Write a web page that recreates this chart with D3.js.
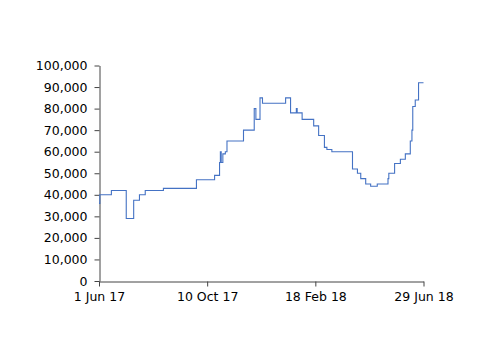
<!DOCTYPE html>
<html>
<head>
<meta charset="utf-8">
<script src="https://cdn.jsdelivr.net/npm/d3@7"></script>
<style>
  body { margin: 0; background: #fff; }
  .axis text { font-family: "DejaVu Sans", Verdana, sans-serif; font-size: 12.5px; fill: #000; }
  .axis path, .axis line { stroke: #444; }
</style>
</head>
<body>
<div id="chart"></div>
<script>
// step data
const dates = [
    "2017-06-01", "2017-06-02", "2017-06-16", "2017-07-04", "2017-07-13", "2017-07-20",
    "2017-07-27", "2017-08-18", "2017-09-27", "2017-10-19", "2017-10-25", "2017-10-26",
    "2017-10-27", "2017-10-29", "2017-11-01", "2017-11-03", "2017-11-23", "2017-12-06",
    "2017-12-08", "2017-12-13", "2017-12-16", "2018-01-13", "2018-01-19", "2018-01-26",
    "2018-01-27", "2018-02-02", "2018-02-16", "2018-02-22", "2018-03-01", "2018-03-04",
    "2018-03-10", "2018-04-04", "2018-04-10", "2018-04-14", "2018-04-20", "2018-04-26",
    "2018-05-04", "2018-05-17", "2018-05-18", "2018-05-25", "2018-06-01", "2018-06-07",
    "2018-06-13", "2018-06-15", "2018-06-16", "2018-06-19", "2018-06-23", "2018-06-29"
];
const values = [
    36000, 40000, 42000, 29000, 37500, 40000,
    42000, 43000, 47000, 49000, 55000, 60000,
    55000, 59000, 60000, 65000, 70000, 80000,
    75000, 85000, 82500, 85000, 78000, 80000,
    78000, 75000, 72000, 67500, 62000, 61000,
    60000, 52000, 50000, 47500, 45000, 44000,
    45000, 47500, 50000, 54500, 56500, 59000,
    65000, 70000, 81000, 84000, 92000, 92000
];
const xTickDates = ["2017-06-01", "2017-10-10", "2018-02-18", "2018-06-29"];
const yTicks = [0, 10000, 20000, 30000, 40000, 50000, 60000, 70000, 80000, 90000, 100000];

const parse = d3.timeParse("%Y-%m-%d");
let data = dates.map((d, i) => ({date: parse(d), value: values[i]}));

let width = 500, height = 353;
let margin = {top: 65.5, right: 76.5, bottom: 72, left: 99};

let svg = d3.select("#chart").append("svg")
    .attr("width", width)
    .attr("height", height);

let x = d3.scaleTime()
    .domain([parse(xTickDates[0]), parse(xTickDates[3])])
    .range([margin.left, width - margin.right]);

let y = d3.scaleLinear()
    .domain([0, 100000])
    .range([height - margin.bottom, margin.top]);

// x axis
svg.append("g")
    .attr("class", "axis")
    .attr("transform", `translate(0, ${Math.round(y(0)) + 0.5})`)
    .call(d3.axisBottom(x)
        .tickValues(xTickDates.map(parse))
        .tickFormat(d3.timeFormat("%-d %b %y"))
        .tickSize(5)
        .tickSizeOuter(0)
        .tickPadding(6));

// y axis
svg.append("g")
    .attr("class", "axis")
    .attr("transform", `translate(${Math.round(margin.left) + 0.5}, 0)`)
    .call(d3.axisLeft(y)
        .tickValues(yTicks)
        .tickFormat(d3.format(","))
        .tickSize(5)
        .tickSizeOuter(0)
        .tickPadding(7));

let line = d3.line()
    .x(d => x(d.date))
    .y(d => y(d.value))
    .curve(d3.curveStepAfter);

svg.append("path")
    .datum(data)
    .attr("fill", "none")
    .attr("stroke", "#4472c4")
    .attr("stroke-width", 1.1)
    .attr("d", line);
</script>
</body>
</html>
